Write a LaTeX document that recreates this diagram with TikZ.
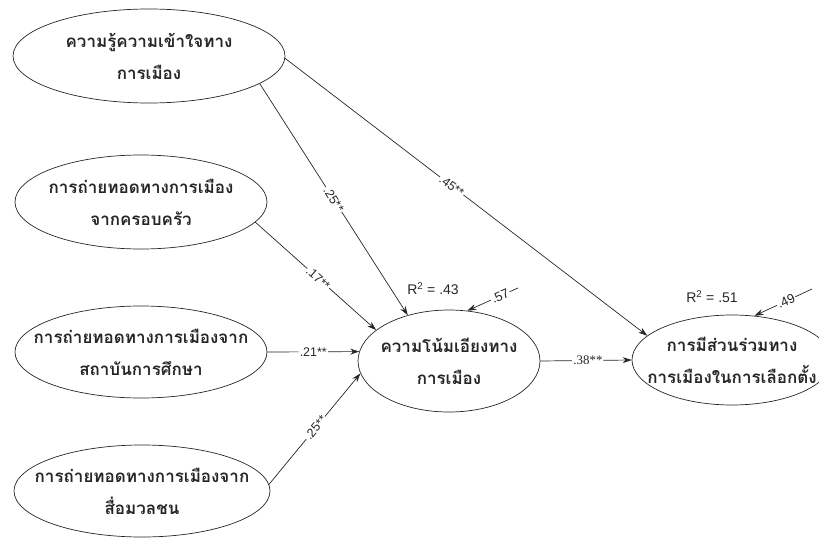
\documentclass[tikz,border=0pt]{standalone}
\usepackage{fontspec}
\setmainfont{Liberation Sans}
\newfontfamily\thaifont[Script=Thai]{Loma}
\newfontfamily\serifnum{Liberation Serif}
\usetikzlibrary{shapes,arrows.meta}
\tikzset{
    latent/.style={
           ellipse,
           draw, line width=0.7pt,
           inner xsep=-40pt, inner ysep=-12pt,
           align=center,
           font=\thaifont\bfseries\fontsize{17}{32}\selectfont
           },
    coef/.style={
           sloped,
           fill=white,
           inner sep=1pt,
           font=\fontsize{12.5}{12.5}\selectfont
           },
    resid/.style={
           sloped,
           fill=white,
           inner sep=1pt,
           font=\fontsize{13}{13}\selectfont
           },
    rsq/.style={
           font=\fontsize{14}{14}\selectfont
           }
}
\begin{document}
\begin{tikzpicture}[x=1pt, y=-1pt, >={Stealth[length=9pt,width=6pt]}, line width=0.7pt, black!85]
\useasboundingbox (0,0) rectangle (819,543);
   \node[latent, minimum width=272pt, minimum height=94pt] (a) at (149,56) {ความรู้ความเข้าใจทาง\\การเมือง};
   \node[latent, minimum width=252pt, minimum height=94pt] (b) at (141,202) {การถ่ายทอดทางการเมือง\\จากครอบครัว};
   \node[latent, minimum width=252pt, minimum height=92pt] (c) at (141,352) {การถ่ายทอดทางการเมืองจาก\\สถาบันการศึกษา};
   \node[latent, minimum width=256pt, minimum height=92pt] (d) at (142,491) {การถ่ายทอดทางการเมืองจาก\\สื่อมวลชน};
   \node[latent, minimum width=182pt, minimum height=102pt] (m) at (449,361) {ความโน้มเอียงทาง\\การเมือง};
   \node[latent, minimum width=200pt, minimum height=90pt] (y) at (732,360) {การมีส่วนร่วมทาง\\การเมืองในการเลือกตั้ง};
   \node[rsq] (rm) at (433,289) {R\textsuperscript{2} = .43};
   \node[rsq] (ry) at (712,297) {R\textsuperscript{2} = .51};
   \coordinate (em) at (518,288);
   \coordinate (ey) at (812,289);
   \path[->]
    (a.-14) edge node[coef, pos=.5] {.25**} (m.132)
    (a.-1) edge node[coef, pos=.46] {.45**} (y.164)
    (b.-10) edge node[coef, pos=.52] {.17**} (m.157)
    (c.east) edge node[coef] {.21**} (m.174)
    (d.3) edge node[coef, pos=.51] {.25**} (m.-172)
    (m.east) edge node[coef, pos=.52, font=\serifnum\fontsize{13}{13}\selectfont] {.38**} (y.west)
    (em) edge node[resid, pos=.35] {.57} (m.70)
    (ey) edge node[resid, pos=.45] {.49} (y.63);
\end{tikzpicture}
\end{document}
